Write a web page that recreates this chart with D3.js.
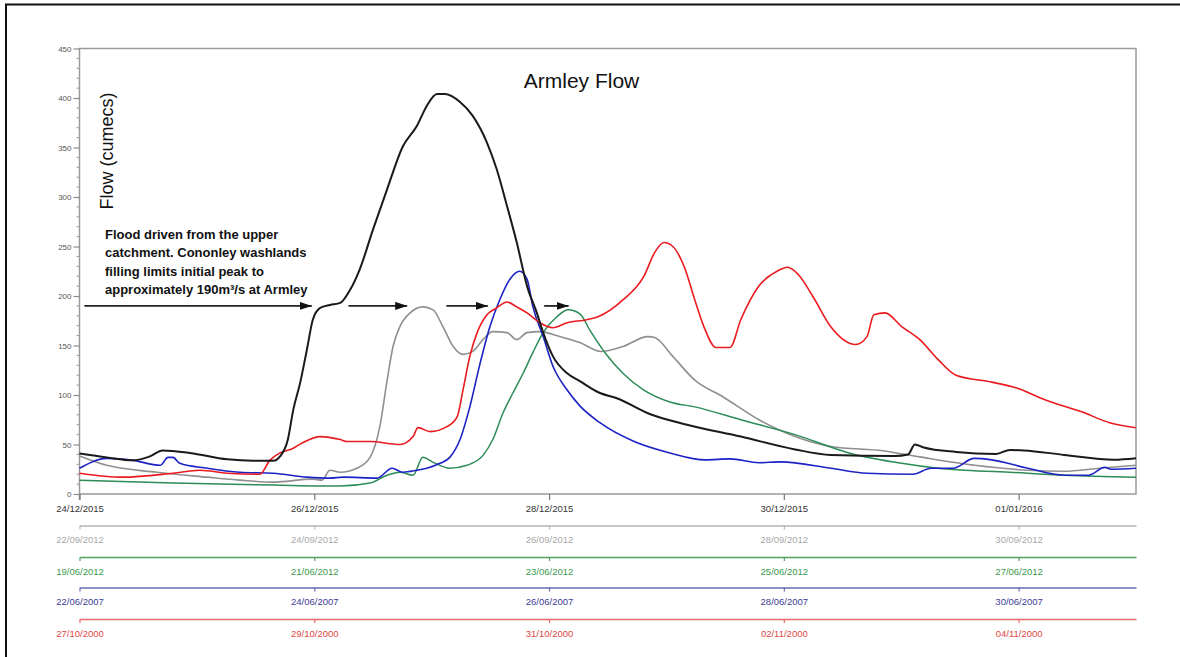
<!DOCTYPE html>
<html>
<head>
<meta charset="utf-8">
<script src="https://cdn.jsdelivr.net/npm/d3@7"></script>
<style>
  body { margin: 0; background: #fff; }
  text { font-family: "Liberation Sans", Arial, sans-serif; }
</style>
</head>
<body>
<div id="chart"></div>
<script>
var w = 1180;
var h = 657;

// hours since the start of each event, and flow in cumecs
var hours2015 = [0, 5.6, 10.9, 14.4, 17, 22.6, 30.2, 35.5, 39.6, 41, 42.6, 43.7, 45.1, 46.5, 47.7, 49.2, 51.2, 53.3, 55.3, 57.3, 60, 62.9, 66.1, 69, 71, 73.1, 74.7, 77.8, 80.4, 83.3, 85.3, 87.4, 89.4, 91.5, 93.5, 94.8, 96.8, 99.7, 102.3, 106.4, 109.7, 117, 124.2, 135.2, 146.3, 153.6, 166.7, 169.4, 170.8, 172.6, 179.2, 187.4, 190.2, 193.1, 201.3, 211.5, 216];
var flow2015 = [41, 37, 34, 38, 44, 41.5, 35, 33.5, 33.5, 38, 55, 85, 112, 146, 176, 188, 191, 193, 206, 227, 267, 308, 351, 372, 392, 404, 404, 396, 382, 355, 328, 291, 254, 210, 183, 163, 139, 122, 114, 102, 97, 80, 70, 58, 45, 39.5, 38.5, 40, 50, 47, 42.5, 40.5, 44.5, 44, 39.5, 34.5, 36];

var hoursSep2012 = [0, 5.6, 15.8, 26.1, 32.8, 39.6, 47.7, 49.6, 51.2, 53.3, 56.7, 59.4, 61.4, 62.9, 64.1, 65.5, 67.6, 70.2, 72.3, 74.3, 76.4, 78.4, 80.4, 82.5, 84.5, 87.4, 89.4, 91.5, 94.1, 98.2, 102.3, 106.6, 111.1, 116.2, 117.6, 121.3, 125.8, 131.6, 138.9, 146.3, 153.6, 164.5, 171.8, 183.1, 193.9, 201.3, 208.6, 216];
var flowSep2012 = [38.5, 29, 22, 17, 14, 12, 15, 14, 24, 22, 26, 37, 68, 115, 149, 169, 183, 189, 186, 169, 149, 141, 144, 156, 164, 163, 156, 163, 164, 159, 153, 144, 149, 159, 158, 139, 115, 98, 75, 58, 48, 43.5, 37.5, 29, 24, 23, 26, 29];

var hoursJun2012 = [0, 19.1, 39.6, 53.3, 59.4, 62.9, 65.5, 68.2, 70.2, 72.3, 75.7, 79.2, 82.5, 84.5, 86.6, 88.6, 90.7, 92.7, 94.8, 97.6, 99.9, 102.3, 104.4, 107.4, 111.1, 115.4, 120.7, 125.8, 135.2, 146.3, 157.3, 168.1, 175.5, 190.2, 201.3, 216];
var flowJun2012 = [14, 11, 9, 8, 11, 19, 22, 19, 37, 32, 26, 29, 39, 55, 82, 102, 122, 143, 163, 179, 186, 182, 165, 143, 122, 105, 93, 88, 75, 60, 41.5, 31, 26, 22, 19, 17];

var hours2007 = [0, 5.6, 10.9, 16.5, 18.1, 19.1, 20.5, 26.1, 32.8, 39.6, 46.5, 51.2, 53.9, 60.8, 63.9, 66.1, 69, 71, 73.7, 75.7, 77.8, 79.8, 81.9, 83.9, 85.9, 88, 90, 91.5, 92.7, 94.8, 96.8, 99.7, 102.3, 106.4, 113.4, 120.7, 127.9, 133, 138.9, 143.4, 153.6, 160.9, 170.4, 174.1, 178.6, 182.9, 186.5, 193.9, 201.3, 206.4, 209.6, 210.9, 216];
var flow2007 = [26, 36, 34, 29, 37, 37, 31, 26, 22, 21, 17, 16, 17, 16, 26, 22, 24, 26, 31, 37, 55, 88, 132, 169, 196, 217, 225, 217, 189, 159, 129, 105, 89, 72, 53, 41.5, 34.5, 35.5, 31.5, 32.5, 26, 21, 20, 26, 26, 36, 34.5, 26, 19, 19, 27, 25, 26];

var hours2000 = [0, 8.9, 19.1, 24.6, 30.2, 36.9, 38.9, 41, 43.6, 45.7, 49.2, 53.3, 54.7, 59.4, 65.5, 68.2, 69.2, 71.7, 75.1, 77.2, 78.4, 79.8, 81.3, 83.3, 85.3, 87.4, 89.4, 91.5, 94.1, 96.8, 99.7, 103.7, 106, 111.1, 115.4, 117.6, 119.5, 121.3, 123.6, 125.8, 127.9, 130.1, 133, 135.2, 138.9, 142.6, 144.8, 146.9, 150, 153.6, 158.7, 161, 162.4, 164.7, 168.1, 171.8, 175.5, 179.2, 186.5, 191.6, 197.5, 204.9, 210.6, 216];
var flow2000 = [21, 17, 21, 24, 21, 20, 34, 41.5, 46, 52, 58, 55, 53, 53, 50, 58, 67, 63, 68, 78, 105, 139, 163, 181, 188, 194, 189, 183, 173, 168, 173, 176, 179, 196, 220, 244, 254, 250, 230, 196, 166, 148, 148, 176, 210, 225, 229, 222, 199, 169, 151, 159, 181, 183, 169, 156, 136, 120, 113, 107, 95, 83, 72, 67];

var yTicks = [0, 50, 100, 150, 200, 250, 300, 350, 400, 450];
var axisStarts = ["2015-12-24", "2012-09-22", "2012-06-19", "2007-06-22", "2000-10-27"];
var dayTicks = [0, 2, 4, 6, 8];

var titleText = "Armley Flow";
var yLabel = "Flow (cumecs)";
var noteLines = ["Flood driven from the upper", "catchment. Cononley washlands", "filling limits initial peak to", "approximately 190m\u00b3/s at Armley"];
var arrowSpans = [[1, 47.5], [55, 67], [75, 83.5], [95, 100]];
var arrowFlow = 190;

var series = [
  { hours: hoursSep2012, flow: flowSep2012, color: "#8f8f8f", width: 1.6 },
  { hours: hoursJun2012, flow: flowJun2012, color: "#2b8c57", width: 1.5 },
  { hours: hours2007, flow: flow2007, color: "#1c22c4", width: 1.6 },
  { hours: hours2000, flow: flow2000, color: "#ea1a1e", width: 1.6 },
  { hours: hours2015, flow: flow2015, color: "#1a1a1a", width: 2 }
];

// bottom date axes: main one then the four comparison events
var axisStyle = [
  { y: 494, line: "#9a9a9a", text: "#333333", size: 6 },
  { y: 525.5, line: "#b5b5b5", text: "#a8a8a8", size: 4 },
  { y: 557, line: "#4fa35f", text: "#3a9a4c", size: 4 },
  { y: 587.5, line: "#6b6bb5", text: "#3c3c96", size: 4 },
  { y: 619, line: "#e86a6a", text: "#e04848", size: 4 }
];

var plotLeft = 79.5, plotRight = 1136, plotTop = 48.5, plotBottom = 494;

var svg = d3.select("#chart")
  .append("svg")
  .attr("width", w)
  .attr("height", h)
  .style("background-color", "white");

// outer border (left and top only, as cropped)
svg.append("line").attr("x1", 6).attr("y1", 4.5).attr("x2", 6).attr("y2", h)
  .attr("stroke", "#111").attr("stroke-width", 2);
svg.append("line").attr("x1", 5).attr("y1", 4.5).attr("x2", w).attr("y2", 4.5)
  .attr("stroke", "#111").attr("stroke-width", 2);

var x = d3.scaleLinear().domain([0, 216]).range([plotLeft, plotRight]);
var y = d3.scaleLinear().domain([0, 450]).range([plotBottom, plotTop]);

// frame
svg.append("path")
  .attr("d", "M" + plotLeft + "," + (plotBottom + 6) + "V" + plotTop + "H" + plotRight + "V" + plotBottom + "H" + plotLeft)
  .attr("fill", "none")
  .attr("stroke", "#9a9a9a")
  .attr("stroke-width", 1.5);

// y axis
var yAxis = d3.axisLeft(y).tickValues(yTicks).tickSize(6).tickPadding(2);
var gy = svg.append("g").attr("transform", "translate(" + plotLeft + ",0)").call(yAxis);
gy.select(".domain").remove();
gy.selectAll(".tick line").attr("stroke", "#8a8a8a").attr("stroke-width", 1.2);
gy.selectAll(".tick text").attr("fill", "#555").style("font-size", "8px");

var minor = d3.range(0, 451, 10).filter(function(d) { return d % 50 !== 0; });
gy.selectAll(".minor")
  .data(minor)
  .join("line")
  .attr("class", "minor")
  .attr("x1", -3).attr("x2", 0)
  .attr("y1", function(d) { return y(d); })
  .attr("y2", function(d) { return y(d); })
  .attr("stroke", "#9a9a9a")
  .attr("stroke-width", 1);

// date axes
var fmt = d3.utcFormat("%d/%m/%Y");
axisStarts.forEach(function(s, i) {
  var st = axisStyle[i];
  var t0 = new Date(s + "T00:00:00Z");
  var t1 = d3.utcDay.offset(t0, 9);
  var tx = d3.scaleUtc().domain([t0, t1]).range([plotLeft, plotRight]);
  var ticks = dayTicks.map(function(d) { return d3.utcDay.offset(t0, d); });
  var ax = d3.axisBottom(tx).tickValues(ticks).tickFormat(fmt).tickSize(st.size).tickSizeOuter(0);
  var g = svg.append("g").attr("transform", "translate(0," + st.y + ")").call(ax);
  g.select(".domain").attr("stroke", st.line).attr("stroke-width", 1.5);
  if (i === 0) g.select(".domain").remove();
  g.selectAll(".tick line").attr("stroke", i === 0 ? "#777" : st.line).attr("stroke-width", 1.2);
  g.selectAll(".tick text")
    .attr("y", 14.5)
    .attr("dy", "0.35em")
    .attr("fill", st.text)
    .style("font-size", "9.5px");
});

// flow lines
var line = d3.line()
  .x(function(d) { return x(d[0]); })
  .y(function(d) { return y(d[1]); })
  .curve(d3.curveMonotoneX);

svg.selectAll(".flow")
  .data(series)
  .join("path")
  .attr("class", "flow")
  .attr("d", function(s) { return line(d3.zip(s.hours, s.flow)); })
  .attr("fill", "none")
  .attr("stroke", function(s) { return s.color; })
  .attr("stroke-width", function(s) { return s.width; })
  .attr("stroke-linejoin", "round");

// arrows
svg.append("defs").append("marker")
  .attr("id", "head")
  .attr("viewBox", "0 0 12 8")
  .attr("refX", 12).attr("refY", 4)
  .attr("markerWidth", 12).attr("markerHeight", 8)
  .attr("markerUnits", "userSpaceOnUse")
  .attr("orient", "auto")
  .append("path")
  .attr("d", "M0,0L12,4L0,8Z")
  .attr("fill", "#111");

svg.selectAll(".arrow")
  .data(arrowSpans)
  .join("line")
  .attr("class", "arrow")
  .attr("x1", function(d) { return x(d[0]); })
  .attr("x2", function(d) { return x(d[1]); })
  .attr("y1", y(arrowFlow))
  .attr("y2", y(arrowFlow))
  .attr("stroke", "#222")
  .attr("stroke-width", 1.8)
  .attr("marker-end", "url(#head)");

// note text
svg.append("text")
  .attr("x", 105)
  .attr("y", 239)
  .style("font-size", "13px")
  .style("font-weight", "bold")
  .attr("fill", "#111")
  .selectAll("tspan")
  .data(noteLines)
  .join("tspan")
  .attr("x", 105)
  .attr("dy", function(d, i) { return i === 0 ? 0 : 18.3; })
  .text(function(d) { return d; });

// titles
svg.append("text")
  .attr("x", 581.5)
  .attr("y", 88)
  .attr("text-anchor", "middle")
  .attr("fill", "#111")
  .style("font-size", "21px")
  .text(titleText);

svg.append("text")
  .attr("transform", "translate(113,151) rotate(-90)")
  .attr("text-anchor", "middle")
  .attr("fill", "#111")
  .style("font-size", "18px")
  .text(yLabel);
</script>
</body>
</html>
